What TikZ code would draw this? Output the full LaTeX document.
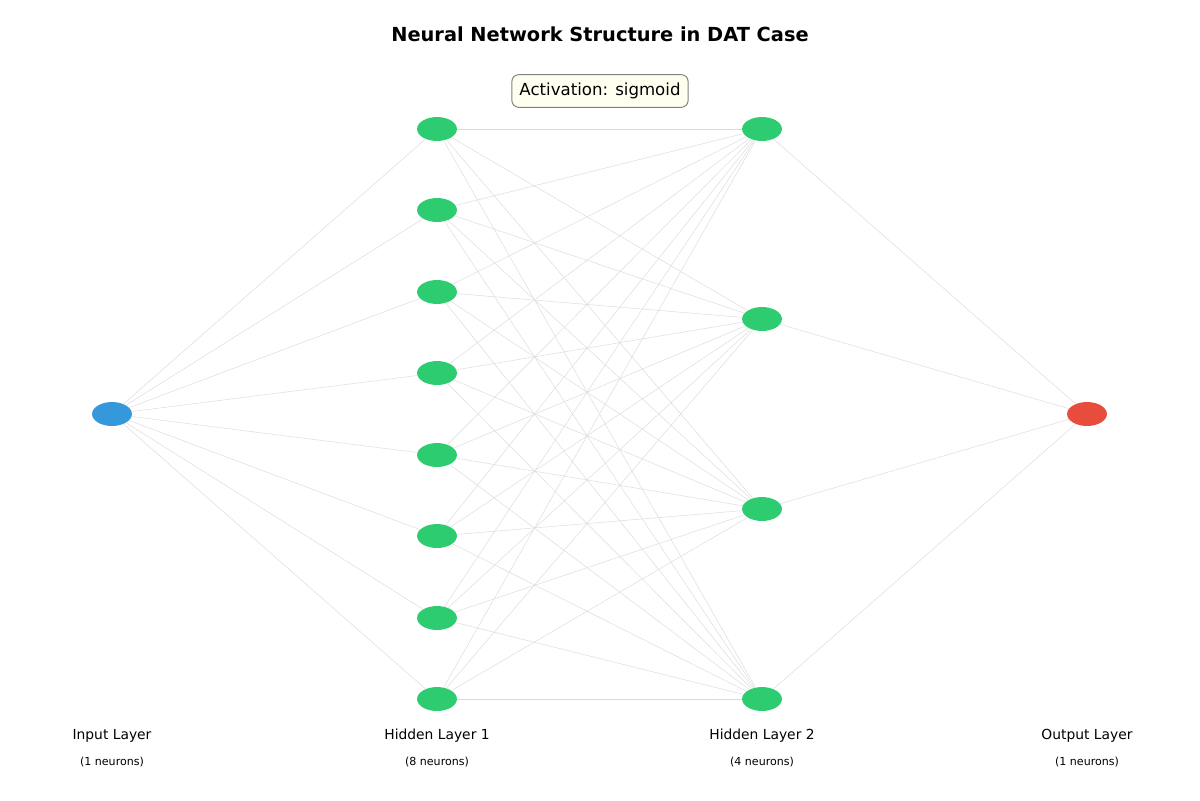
\documentclass[tikz,border=0pt]{standalone}
\usepackage{fontspec}
\setmainfont{DejaVu Sans}
\usepackage{tikz}
\usetikzlibrary{positioning}
\usetikzlibrary{shapes.geometric}
\definecolor{inblue}{HTML}{3498DB}
\definecolor{hidgreen}{HTML}{2ECC71}
\definecolor{outred}{HTML}{E74C3C}
\definecolor{boxfill}{HTML}{FFFFF0}
\tikzset{
  neuron/.style={ellipse,minimum width=28.8pt,minimum height=17.3pt,inner sep=0pt},
  link/.style={draw=black!14,line width=0.35pt},
  layername/.style={font=\fontsize{10}{12}\selectfont},
  layercount/.style={font=\fontsize{8}{10}\selectfont}
}
\begin{document}
\begin{tikzpicture}[line cap=round,line join=round,x=0.254mm,y=-0.254mm]
\useasboundingbox (0,0) rectangle (1200,800);
% neurons
\node[neuron,fill=inblue] (in) at (112,414) {};
\foreach \i/\yy in {1/129,2/210,3/292,4/373,5/455,6/536,7/618,8/699}
  \node[neuron,fill=hidgreen] (ha\i) at (437,\yy) {};
\foreach \j/\yy in {1/129,2/319,3/509,4/699}
  \node[neuron,fill=hidgreen] (hb\j) at (762,\yy) {};
\node[neuron,fill=outred] (out) at (1087,414) {};
% connections
\foreach \i in {1,...,8}
  \draw[link] (in) -- (ha\i);
\foreach \i in {1,...,8}
  \foreach \j in {1,...,4}
    \draw[link] (ha\i) -- (hb\j);
\foreach \j in {1,...,4}
  \draw[link] (hb\j) -- (out);
% labels
\node[font=\fontsize{14}{16}\selectfont\bfseries] (title) at (600,34) {Neural Network Structure in DAT Case};
\node[draw=black!50,fill=boxfill,rounded corners=5pt,line width=0.7pt,inner xsep=5.5pt,inner ysep=6pt,font=\fontsize{12}{14}\selectfont] (act) at (600,91) {Activation: sigmoid};
\node[layername] (lin) at (112,736) {Input Layer};
\node[layercount] (cin) at (112,762) {(1 neurons)};
\node[layername] (lha) at (437,736) {Hidden Layer 1};
\node[layercount] (cha) at (437,762) {(8 neurons)};
\node[layername] (lhb) at (762,736) {Hidden Layer 2};
\node[layercount] (chb) at (762,762) {(4 neurons)};
\node[layername] (lout) at (1087,736) {Output Layer};
\node[layercount] (cout) at (1087,762) {(1 neurons)};
\end{tikzpicture}
\end{document}
